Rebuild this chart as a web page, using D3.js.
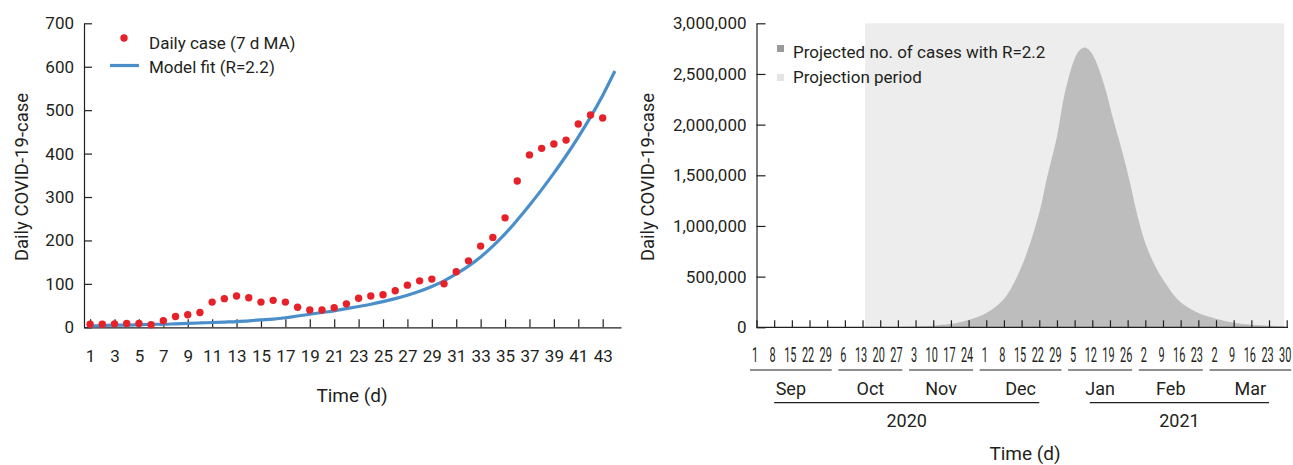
<!DOCTYPE html>
<html>
<head>
<meta charset="utf-8">
<script src="https://cdn.jsdelivr.net/npm/d3@7"></script>
<style>
  body { margin: 0; background: #fff; }
  svg { display: block; font-family: Roboto, "Noto Sans", sans-serif; }
  .axis path, .axis line { stroke: #231f20; stroke-width: 1.2; }
  .axis text { fill: #231f20; font-size: 17px; font-family: Roboto, sans-serif; }
</style>
</head>
<body>
<svg id="chart" width="1293" height="465"></svg>
<script>
// ---- left panel: observed daily cases and model fit ----
const days = d3.range(1, 44);          // day 1..43
const dailyCases = [7, 7, 8, 9, 9, 6, 15, 25, 29, 34,
  58, 66, 72, 68, 58, 62, 58, 46, 40, 40,
  45, 54, 67, 72, 75, 84, 97, 107, 111, 100,
  128, 153, 187, 207, 252, 337, 397, 412, 422, 431,
  468, 489, 482];
const fitDays = d3.range(1, 45);       // day 1..44
const modelFit = [3, 4, 5, 5, 6, 7, 7, 8, 9, 10,
  11, 12, 13, 15, 17, 19, 22, 26, 30, 34,
  38, 43, 48, 53, 59, 66, 74, 83, 94, 107,
  123, 141, 162, 187, 215, 247, 281, 317, 355, 395,
  438, 484, 534, 590];
const leftYTicks = [0, 100, 200, 300, 400, 500, 600, 700];
const leftXTicks = d3.range(1, 44, 2);

// ---- right panel: projection ----
const projDates = ["2020-10-14", "2020-10-21", "2020-10-28", "2020-11-04", "2020-11-10",
  "2020-11-17", "2020-11-24", "2020-12-01", "2020-12-08", "2020-12-15",
  "2020-12-22", "2020-12-25", "2020-12-29", "2021-01-01", "2021-01-05",
  "2021-01-07", "2021-01-09", "2021-01-11", "2021-01-13", "2021-01-17",
  "2021-01-20", "2021-01-24",
  "2021-01-27", "2021-01-30", "2021-02-02", "2021-02-06", "2021-02-10",
  "2021-02-15", "2021-02-22", "2021-03-02", "2021-03-09", "2021-03-16",
  "2021-03-23", "2021-03-29"];
const projCases = [1000, 2000, 4000, 9000, 16000,
  34000, 73000, 142000, 280000, 600000,
  1130000, 1470000, 1880000, 2300000, 2650000,
  2735000, 2760000, 2730000, 2650000, 2370000,
  2080000, 1720000,
  1420000, 1090000, 830000, 600000, 434000,
  270000, 154000, 85000, 45000, 26000,
  16000, 10000];
const projectionPeriod = ["2020-10-14", "2021-03-29"];
const rightYTicks = [0, 500000, 1000000, 1500000, 2000000, 2500000, 3000000];
const months = ["Sep", "Oct", "Nov", "Dec", "Jan", "Feb", "Mar"];
const monthYears = [2020, 2020, 2020, 2020, 2021, 2021, 2021];
const monthNums = [9, 10, 11, 12, 1, 2, 3];
const monthDays = [[1, 8, 15, 22, 29], [6, 13, 20, 27], [3, 10, 17, 24],
  [1, 8, 15, 22, 29], [5, 12, 19, 26], [2, 9, 16, 23], [2, 9, 16, 23, 30]];
const years = ["2020", "2021"];
const yearSpans = [["2020-09-08", "2020-12-22"], ["2021-01-11", "2021-03-23"]];

const ink = "#231f20";
const svg = d3.select("#chart");
const parse = d3.utcParse("%Y-%m-%d");

// ================= left chart =================
const xL = d3.scaleLinear().domain([0.5, 44.5]).range([84, 621]);
const yL = d3.scaleLinear().domain([0, 700]).range([327.3, 23.3]);

const left = svg.append("g");

left.append("g")
  .attr("class", "axis")
  .attr("transform", "translate(84,0)")
  .call(d3.axisLeft(yL).tickValues(leftYTicks).tickSizeInner(-8).tickSizeOuter(0).tickPadding(10));

left.append("g")
  .attr("class", "axis")
  .attr("transform", "translate(0,327.3)")
  .call(d3.axisBottom(xL).tickValues(leftXTicks).tickSizeInner(-8).tickSizeOuter(0).tickPadding(23));

left.append("path")
  .datum(fitDays.map((d, i) => [d, modelFit[i]]))
  .attr("fill", "none")
  .attr("stroke", "#4b8fca")
  .attr("stroke-width", 3.2)
  .attr("d", d3.line().x(d => xL(d[0])).y(d => yL(d[1])).curve(d3.curveCatmullRom));

left.append("g").selectAll("circle")
  .data(days.map((d, i) => [d, dailyCases[i]]))
  .join("circle")
  .attr("cx", d => xL(d[0]))
  .attr("cy", d => yL(d[1]))
  .attr("r", 3.7)
  .attr("fill", "#e62129");

// legend
left.append("circle").attr("cx", 124).attr("cy", 38).attr("r", 3.7).attr("fill", "#e62129");
left.append("text").attr("x", 149).attr("y", 48.5).attr("font-size", 17).attr("fill", ink)
  .text("Daily case (7 d MA)");
left.append("line").attr("x1", 110).attr("x2", 139).attr("y1", 65.5).attr("y2", 65.5)
  .attr("stroke", "#4b8fca").attr("stroke-width", 3.2);
left.append("text").attr("x", 149).attr("y", 72.5).attr("font-size", 17).attr("fill", ink)
  .text("Model fit (R=2.2)");

left.append("text")
  .attr("transform", "translate(28,177) rotate(-90)")
  .attr("text-anchor", "middle").attr("font-size", 18.5).attr("fill", ink)
  .text("Daily COVID-19-case");
left.append("text")
  .attr("x", 352).attr("y", 402).attr("text-anchor", "middle")
  .attr("font-size", 19).attr("fill", ink)
  .text("Time (d)");

// ================= right chart =================
const xR = d3.scaleUtc().domain([parse("2020-09-01"), parse("2021-03-30")]).range([756.5, 1286.7]);
const yR = d3.scaleLinear().domain([0, 3000000]).range([327.3, 23.3]);

const right = svg.append("g");

// projection period background
right.append("rect")
  .attr("x", xR(parse(projectionPeriod[0])))
  .attr("y", yR(3000000))
  .attr("width", xR(parse(projectionPeriod[1])) - xR(parse(projectionPeriod[0])))
  .attr("height", yR(0) - yR(3000000))
  .attr("fill", "#ededed");

right.append("path")
  .datum(projDates.map((d, i) => [parse(d), projCases[i]]))
  .attr("fill", "#bdbdbe")
  .attr("d", d3.area().x(d => xR(d[0])).y0(yR(0)).y1(d => yR(d[1])).curve(d3.curveCatmullRom));

right.append("g")
  .attr("class", "axis")
  .attr("transform", "translate(756.5,0)")
  .call(d3.axisLeft(yR).tickValues(rightYTicks).tickFormat(d3.format(",")).tickSizeInner(-9).tickSizeOuter(0).tickPadding(10));

const tickDates = [];
months.forEach((m, i) => monthDays[i].forEach(day =>
  tickDates.push(new Date(Date.UTC(monthYears[i], monthNums[i] - 1, day)))));

const xAxisR = right.append("g")
  .attr("class", "axis")
  .attr("transform", "translate(0,327.3)")
  .call(d3.axisBottom(xR).tickValues(tickDates).tickFormat(d3.utcFormat("%-d"))
    .tickSizeInner(-7).tickSizeOuter(0).tickPadding(21));
xAxisR.select(".domain").attr("d", `M756.5,0H1288`);
xAxisR.selectAll(".tick text")
  .style("font-size", "19.5px")
  .attr("transform", "translate(-2,0) scale(0.56,1)");

// month groups
months.forEach((m, i) => {
  const first = new Date(Date.UTC(monthYears[i], monthNums[i] - 1, monthDays[i][0]));
  const last = new Date(Date.UTC(monthYears[i], monthNums[i] - 1, monthDays[i][monthDays[i].length - 1]));
  const x0 = xR(first) - 6.5, x1 = xR(last) + 4.5;
  right.append("line").attr("x1", x0).attr("x2", x1).attr("y1", 370).attr("y2", 370)
    .attr("stroke", ink).attr("stroke-width", 1.2);
  right.append("text").attr("x", (x0 + x1) / 2).attr("y", 394.5).attr("text-anchor", "middle")
    .attr("font-size", 18).attr("fill", ink).text(m);
});

years.forEach((yName, i) => {
  const x0 = xR(parse(yearSpans[i][0])), x1 = xR(parse(yearSpans[i][1]));
  right.append("line").attr("x1", x0).attr("x2", x1).attr("y1", 402.7).attr("y2", 402.7)
    .attr("stroke", ink).attr("stroke-width", 1.2);
  right.append("text").attr("x", (x0 + x1) / 2).attr("y", 427).attr("text-anchor", "middle")
    .attr("font-size", 18).attr("fill", ink).text(yName);
});

// legend
right.append("rect").attr("x", 777).attr("y", 45).attr("width", 7).attr("height", 7).attr("fill", "#9a9a9c");
right.append("text").attr("x", 793).attr("y", 57.5).attr("font-size", 17).attr("fill", ink)
  .text("Projected no. of cases with R=2.2");
right.append("rect").attr("x", 777).attr("y", 74).attr("width", 7).attr("height", 7).attr("fill", "#e4e4e4");
right.append("text").attr("x", 793).attr("y", 83).attr("font-size", 17).attr("fill", ink)
  .text("Projection period");

right.append("text")
  .attr("transform", "translate(654,177) rotate(-90)")
  .attr("text-anchor", "middle").attr("font-size", 18.5).attr("fill", ink)
  .text("Daily COVID-19-case");
right.append("text")
  .attr("x", 1025).attr("y", 460).attr("text-anchor", "middle")
  .attr("font-size", 19).attr("fill", ink)
  .text("Time (d)");
</script>
</body>
</html>
